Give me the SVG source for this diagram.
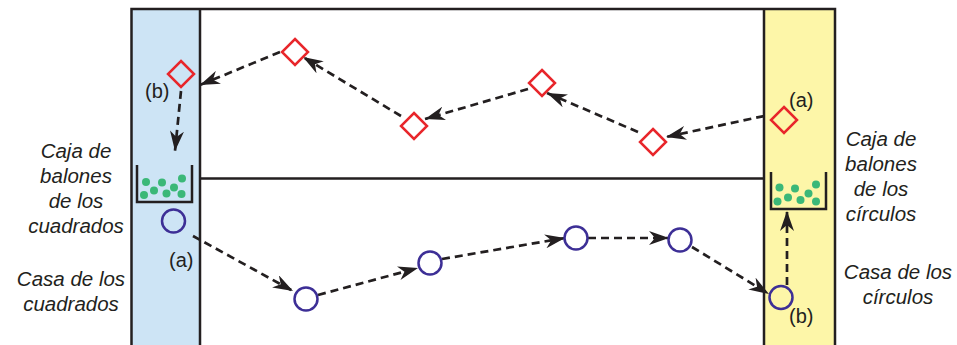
<svg xmlns="http://www.w3.org/2000/svg" width="957" height="345" viewBox="0 0 957 345">
<style>
.frame{stroke:#231f20;stroke-width:2.5;fill:none}
.dia{fill:none;stroke:#e8262b;stroke-width:2.5}
.cir{fill:none;stroke:#3d2f96;stroke-width:2.5}
.dot{fill:#3bb878}
.bask{fill:none;stroke:#231f20;stroke-width:2.5}
.arr{fill:none;stroke:#231f20;stroke-width:2.7;stroke-dasharray:8 5;marker-end:url(#ah)}
.lbl{font-family:"Liberation Sans",Arial,sans-serif;font-size:20px;fill:#231f20}
.it{font-family:"Liberation Sans",Arial,sans-serif;font-size:20.5px;font-style:italic;fill:#231f20;text-anchor:middle}
</style>
<defs>
<marker id="ah" markerUnits="userSpaceOnUse" markerWidth="21" markerHeight="14" refX="20" refY="7" orient="auto" viewBox="0 0 21 14">
<path d="M0,0 L20,7 L0,14 L6,7 z" fill="#231f20"/>
</marker>
</defs>
<g id="columns">
<rect x="131.5" y="9" width="68.5" height="340" fill="#cde4f5"/>
<rect x="764" y="9" width="71" height="340" fill="#fdf6a8"/>
<path class="frame" d="M131.5,345 V9 H835 V345 M200,9 V345 M764,9 V345 M200,178.5 H764"/>
</g>
<g id="connectors">
<line class="arr" x1="764" y1="116" x2="666" y2="137"/>
<line class="arr" x1="638" y1="132" x2="547" y2="93"/>
<line class="arr" x1="528" y1="89" x2="425" y2="119"/>
<line class="arr" x1="401" y1="116" x2="303" y2="57"/>
<line class="arr" x1="280" y1="52" x2="200" y2="85"/>
<line class="arr" x1="181" y1="91" x2="175" y2="151"/>
<line class="arr" x1="193" y1="236" x2="293" y2="291"/>
<line class="arr" x1="318" y1="295" x2="418" y2="268"/>
<line class="arr" x1="442" y1="259" x2="565" y2="238"/>
<line class="arr" x1="588" y1="238" x2="669" y2="238"/>
<line class="arr" x1="692" y1="247" x2="769" y2="294"/>
<line class="arr" x1="787" y1="285" x2="787" y2="211"/>
</g>
<g id="sq-b"><path class="dia" d="M181,61 L194,74 L181,87 L168,74 Z"/><text class="lbl" x="145" y="98">(b)</text></g>
<g id="sq-1"><path class="dia" d="M295,39 L308,52 L295,65 L282,52 Z"/></g>
<g id="sq-2"><path class="dia" d="M414,113 L427,126 L414,139 L401,126 Z"/></g>
<g id="sq-3"><path class="dia" d="M542,70 L555,83 L542,96 L529,83 Z"/></g>
<g id="sq-4"><path class="dia" d="M653,129 L666,142 L653,155 L640,142 Z"/></g>
<g id="sq-a"><path class="dia" d="M784,107 L797,120 L784,133 L771,120 Z"/><text class="lbl" x="789" y="107">(a)</text></g>
<g id="box-squares">
<path class="bask" d="M137,165 V202 H192 V165"/>
<circle class="dot" cx="146" cy="182" r="4"/><circle class="dot" cx="162" cy="182.5" r="4"/><circle class="dot" cx="182" cy="178.5" r="4"/>
<circle class="dot" cx="154" cy="190.5" r="4"/><circle class="dot" cx="174" cy="187.5" r="4"/><circle class="dot" cx="144" cy="195" r="4"/>
<circle class="dot" cx="166.5" cy="193.5" r="4"/><circle class="dot" cx="181.5" cy="194" r="4"/>
</g>
<g id="box-circles">
<path class="bask" d="M771,172 V209 H826 V172"/>
<circle class="dot" cx="779.5" cy="187.5" r="4"/><circle class="dot" cx="795" cy="188.5" r="4"/><circle class="dot" cx="816" cy="184.5" r="4"/>
<circle class="dot" cx="777.5" cy="201.5" r="4"/><circle class="dot" cx="788" cy="197.5" r="4"/><circle class="dot" cx="800.5" cy="200" r="4"/>
<circle class="dot" cx="808.5" cy="193.5" r="4"/><circle class="dot" cx="816" cy="201.5" r="4"/>
</g>
<g id="ci-a"><circle class="cir" cx="173.5" cy="221" r="11.5"/><text class="lbl" x="169" y="267">(a)</text></g>
<g id="ci-1"><circle class="cir" cx="306" cy="299" r="11.5"/></g>
<g id="ci-2"><circle class="cir" cx="430" cy="263" r="11.5"/></g>
<g id="ci-3"><circle class="cir" cx="576" cy="238" r="11.5"/></g>
<g id="ci-4"><circle class="cir" cx="680" cy="240" r="11.5"/></g>
<g id="ci-b"><circle class="cir" cx="781" cy="297.5" r="11.5"/><text class="lbl" x="789" y="323">(b)</text></g>
<g id="label-left">
<text class="it" x="76" y="158">Caja de</text>
<text class="it" x="76" y="183">balones</text>
<text class="it" x="76" y="208">de los</text>
<text class="it" x="76" y="233">cuadrados</text>
<text class="it" x="71" y="286">Casa de los</text>
<text class="it" x="71" y="311">cuadrados</text>
</g>
<g id="label-right">
<text class="it" x="881" y="146">Caja de</text>
<text class="it" x="881" y="171">balones</text>
<text class="it" x="881" y="196">de los</text>
<text class="it" x="881" y="221">círculos</text>
<text class="it" x="898" y="279">Casa de los</text>
<text class="it" x="898" y="304">círculos</text>
</g>
</svg>
